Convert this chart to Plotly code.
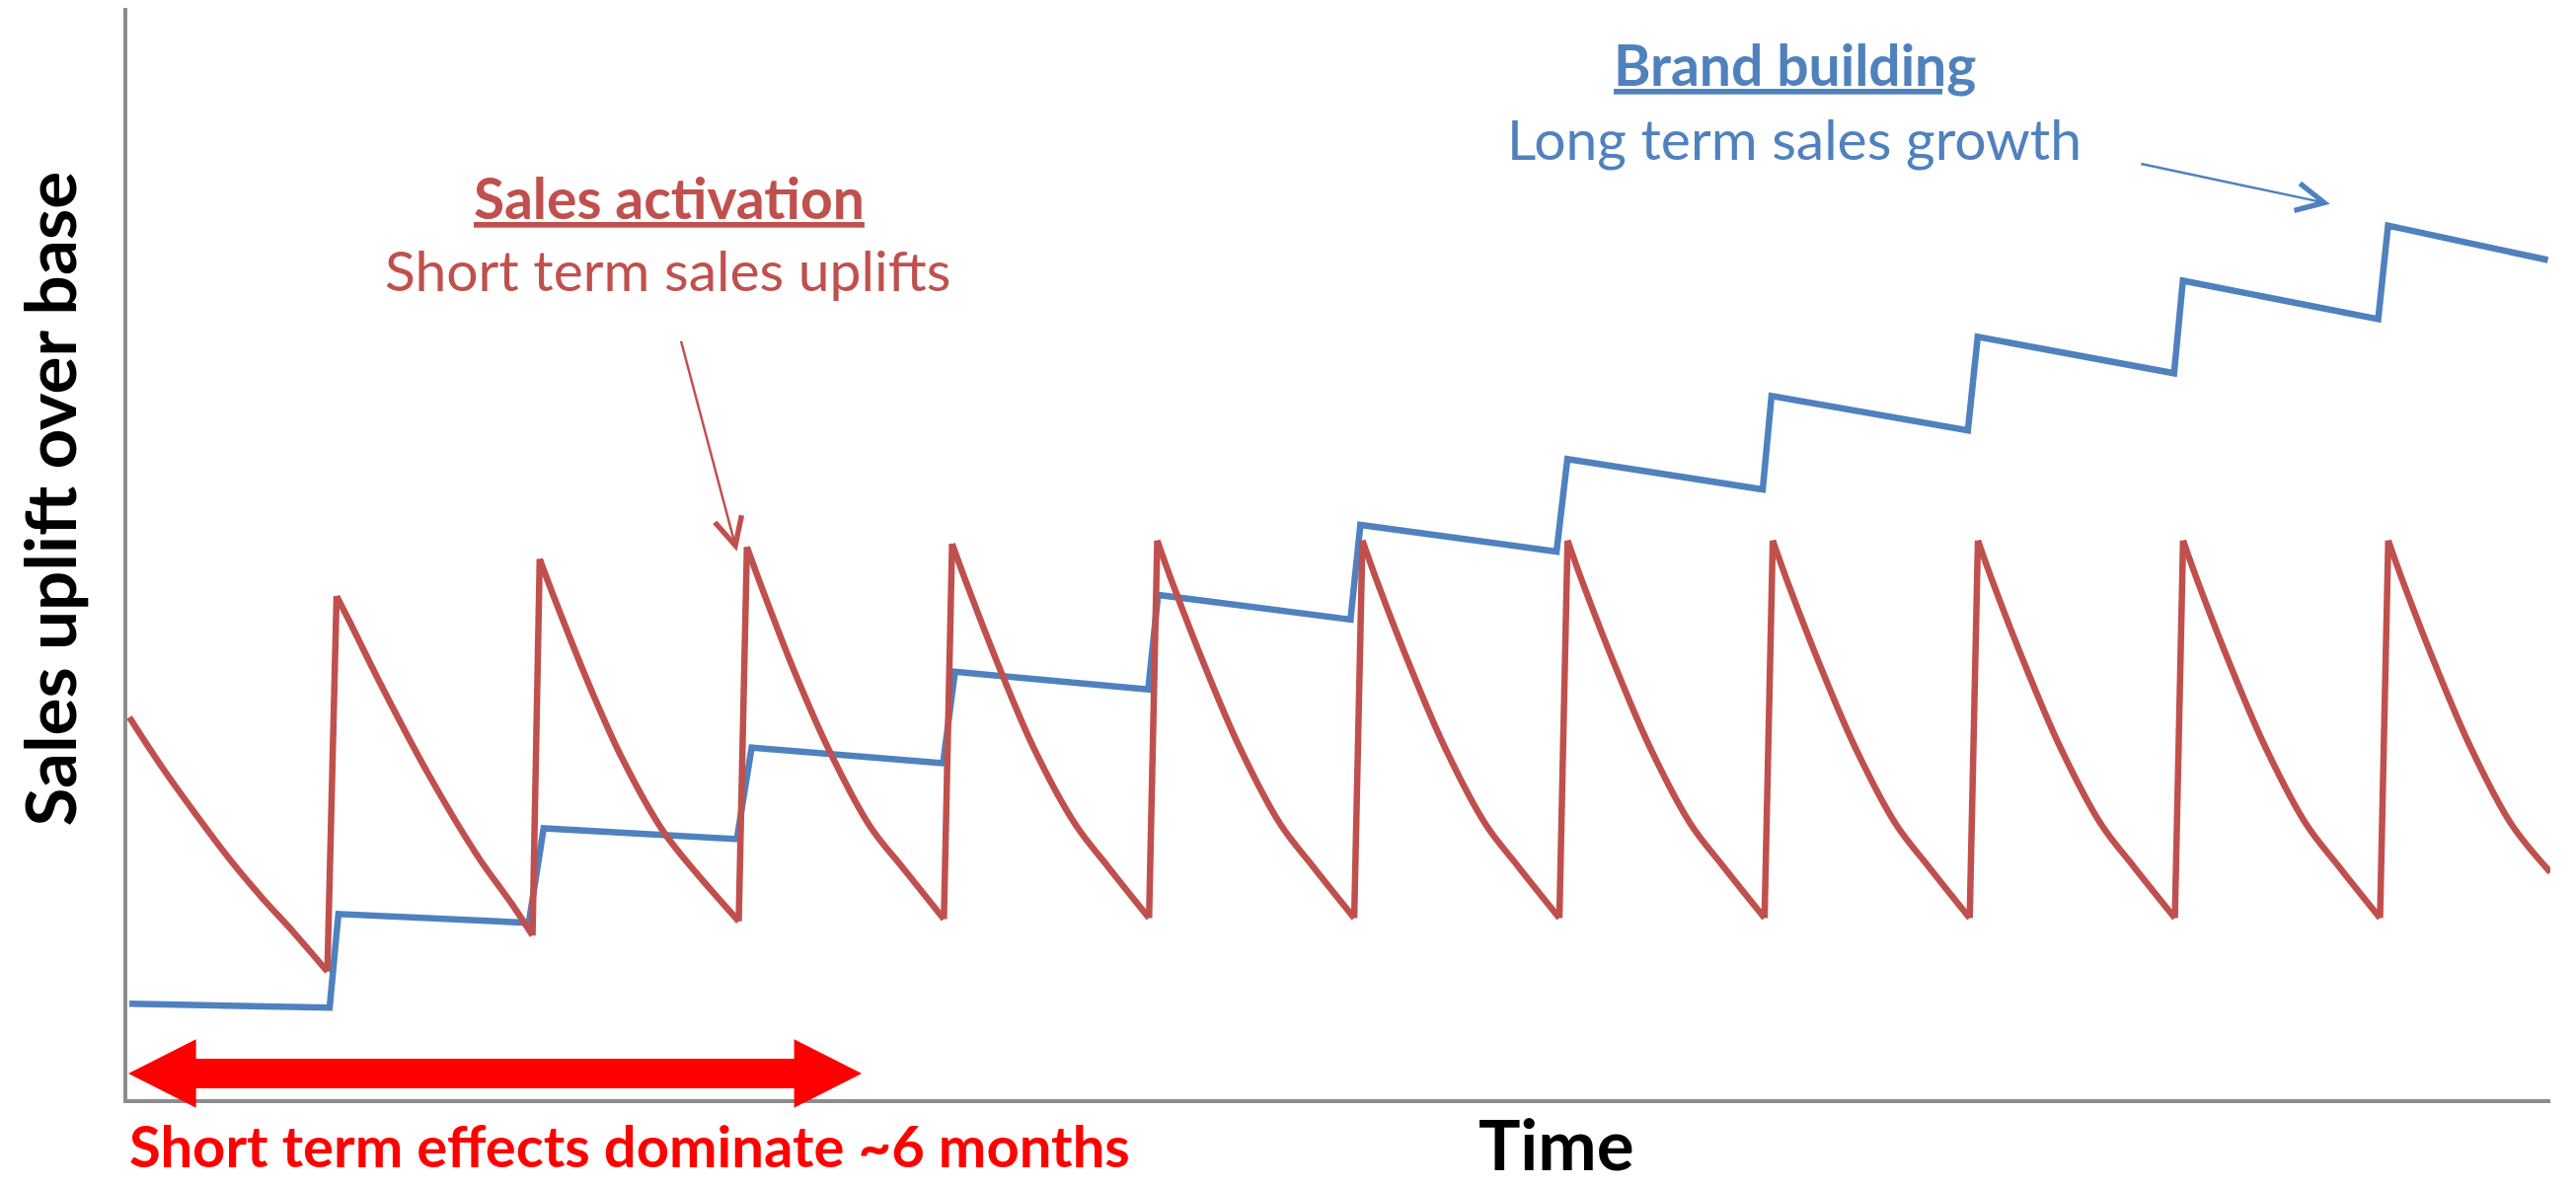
import plotly.graph_objects as go

# ---------------- data ----------------
# Red "sales activation" curve: one decaying segment per burst (peak -> next trough)
red_decay_x = [
    [0.1, 1.7, 3.3, 4.9, 6.5, 8.1, 9.75],
    [10.2, 10.8, 12.3, 14.7, 17.1, 18.7, 19.75],
    [20.1, 20.9, 22.5, 24.1, 26.1, 27.7, 29.8],
    [30.2, 31.0, 32.6, 34.2, 36.2, 37.8, 39.8],
    [40.2, 41.0, 42.6, 44.2, 46.2, 47.8, 49.8],
    [50.2, 51.0, 52.6, 54.2, 56.2, 57.8, 59.8],
    [60.2, 61.0, 62.6, 64.2, 66.2, 67.8, 69.8],
    [70.2, 71.0, 72.6, 74.2, 76.2, 77.8, 79.8],
    [80.2, 81.0, 82.6, 84.2, 86.2, 87.8, 89.8],
    [90.2, 91.0, 92.6, 94.2, 96.2, 97.8, 99.8],
    [100.2, 101.0, 102.6, 104.2, 106.2, 107.8, 109.8],
    [110.2, 111.0, 112.6, 114.2, 116.2, 118.1],
]
red_decay_y = [
    [35.0, 30.4, 26.2, 22.2, 18.6, 15.3, 11.7],
    [46.1, 43.9, 38.2, 29.7, 22.2, 18.0, 15.0],
    [49.5, 45.5, 38.0, 31.3, 24.6, 20.8, 16.3],
    [50.6, 46.5, 38.8, 32.0, 25.0, 21.2, 16.5],
    [50.9, 46.8, 39.1, 32.1, 25.2, 21.3, 16.6],
    [51.2, 47.0, 39.3, 32.3, 25.2, 21.3, 16.6],
    [51.2, 47.0, 39.3, 32.3, 25.2, 21.3, 16.6],
    [51.2, 47.0, 39.3, 32.3, 25.2, 21.3, 16.6],
    [51.2, 47.0, 39.3, 32.3, 25.2, 21.3, 16.6],
    [51.2, 47.0, 39.3, 32.3, 25.2, 21.3, 16.6],
    [51.2, 47.0, 39.3, 32.3, 25.2, 21.3, 16.6],
    [51.2, 47.0, 39.3, 32.3, 25.2, 20.8],
]

# Blue "brand building" staircase
blue_x = [0.1, 9.86, 10.29, 19.57, 20.29, 29.71, 30.43, 39.76, 40.34, 49.76,
          50.24, 59.62, 60.1, 69.66, 70.19, 79.71, 80.14, 89.71, 90.19, 99.76,
          100.19, 109.71, 110.19, 117.98]
blue_y = [8.75, 8.39, 16.97, 16.16, 24.82, 23.83, 32.22, 30.78, 39.17, 37.55,
          46.21, 43.95, 52.62, 50.18, 58.66, 55.87, 64.44, 61.28, 69.86, 66.52,
          75.0, 71.48, 80.05, 76.9]

x_range = [0, 118.1]
y_range = [0, 100]

# "~6 months" double arrow extent along the time axis
short_term_span = [0.05, 35.8]

# text
y_title = "Sales uplift over base"
x_title = "Time"
short_label = "Short term effects dominate ~6 months"
act_title = "Sales activation"
act_sub = "Short term sales uplifts"
brand_title = "Brand building"
brand_sub = "Long term sales growth"

RED = "#C0504D"
BLUE = "#4F81BD"
BRIGHT_RED = "#FF0000"
AXIS = "#8C8C8C"
FONT = "Lato, 'Open Sans', 'DejaVu Sans', sans-serif"

# ---------------- figure ----------------
fig = go.Figure()

fig.add_trace(go.Scatter(
    x=blue_x, y=blue_y, mode="lines",
    line=dict(color=BLUE, width=6.5),
    hoverinfo="skip", showlegend=False))

dx, dy = [], []
for sx, sy in zip(red_decay_x, red_decay_y):
    dx += sx + [None]
    dy += sy + [None]
fig.add_trace(go.Scatter(
    x=dx, y=dy, mode="lines", connectgaps=False,
    line=dict(color=RED, width=6.5, shape="spline", smoothing=1.0),
    hoverinfo="skip", showlegend=False))

rx, ry = [], []
for ax_, ay_, bx_, by_ in zip(red_decay_x[:-1], red_decay_y[:-1],
                              red_decay_x[1:], red_decay_y[1:]):
    rx += [ax_[-1], bx_[0], None]
    ry += [ay_[-1], by_[0], None]
fig.add_trace(go.Scatter(
    x=rx, y=ry, mode="lines", connectgaps=False,
    line=dict(color=RED, width=6.5),
    hoverinfo="skip", showlegend=False))

# big red double arrow (x in data units, y in paper units)
x0, x1 = short_term_span
hl = 3.3
yc, ys_t, ys_b, yh_t, yh_b = 0.0235, 0.037, 0.010, 0.055, -0.008
path = (f"M {x0},{yc} L {x0+hl},{yh_t} L {x0+hl},{ys_t} L {x1-hl},{ys_t} "
        f"L {x1-hl},{yh_t} L {x1},{yc} L {x1-hl},{yh_b} L {x1-hl},{ys_b} "
        f"L {x0+hl},{ys_b} L {x0+hl},{yh_b} Z")
fig.add_shape(type="path", path=path, xref="x", yref="paper",
              fillcolor=BRIGHT_RED, line=dict(width=0), layer="above")

annotations = [
    dict(text=f"<b>{y_title}</b>", xref="paper", yref="paper",
         x=-0.0324, y=0.5505, textangle=-90, showarrow=False,
         xanchor="center", yanchor="middle", borderpad=0, borderwidth=0,
         font=dict(family=FONT, size=71, color="black")),
    dict(text=f"<b>{x_title}</b>", xref="paper", yref="paper",
         x=0.5898, y=-0.0405, showarrow=False,
         xanchor="center", yanchor="middle", borderpad=0, borderwidth=0,
         font=dict(family=FONT, size=71, color="black")),
    dict(text=f"<b>{short_label}</b>", xref="paper", yref="paper",
         x=0.001, y=-0.0424, showarrow=False,
         xanchor="left", yanchor="middle", borderpad=0, borderwidth=0,
         font=dict(family=FONT, size=58, color=BRIGHT_RED)),
    dict(text=f"<b><u>{act_title}</u></b>", xref="x", yref="y",
         x=26.42, y=82.67, showarrow=False,
         xanchor="center", yanchor="middle",
         font=dict(family=FONT, size=57, color=RED)),
    dict(text=act_sub, xref="x", yref="y",
         x=26.32, y=76.08, showarrow=False,
         xanchor="center", yanchor="middle",
         font=dict(family=FONT, size=57, color=RED)),
    dict(text=f"<b><u>{brand_title}</u></b>", xref="x", yref="y",
         x=81.27, y=94.86, showarrow=False,
         xanchor="center", yanchor="middle",
         font=dict(family=FONT, size=57, color=BLUE)),
    dict(text=brand_sub, xref="x", yref="y",
         x=81.27, y=88.04, showarrow=False,
         xanchor="center", yanchor="middle",
         font=dict(family=FONT, size=57, color=BLUE)),
    # thin pointer arrows
    dict(text="", x=29.71, y=50.2, ax=26.97, ay=69.6,
         xref="x", yref="y", axref="x", ayref="y",
         showarrow=True, arrowhead=5, arrowsize=2.2, arrowwidth=2.5,
         arrowcolor=RED, standoff=0),
    dict(text="", x=107.36, y=82.04, ax=98.08, ay=85.74,
         xref="x", yref="y", axref="x", ayref="y",
         showarrow=True, arrowhead=5, arrowsize=2.2, arrowwidth=2.5,
         arrowcolor=BLUE, standoff=0),
]

axis_common = dict(showline=True, linecolor=AXIS, linewidth=4,
                   showgrid=False, zeroline=False, showticklabels=False,
                   ticks="", fixedrange=True)

fig.update_layout(
    width=2610, height=1202,
    margin=dict(l=129, r=26, t=8, b=88),
    paper_bgcolor="white", plot_bgcolor="white",
    xaxis=dict(range=x_range, **axis_common),
    yaxis=dict(range=y_range, **axis_common),
    annotations=annotations,
    showlegend=False,
)

fig.write_html("out.html")
